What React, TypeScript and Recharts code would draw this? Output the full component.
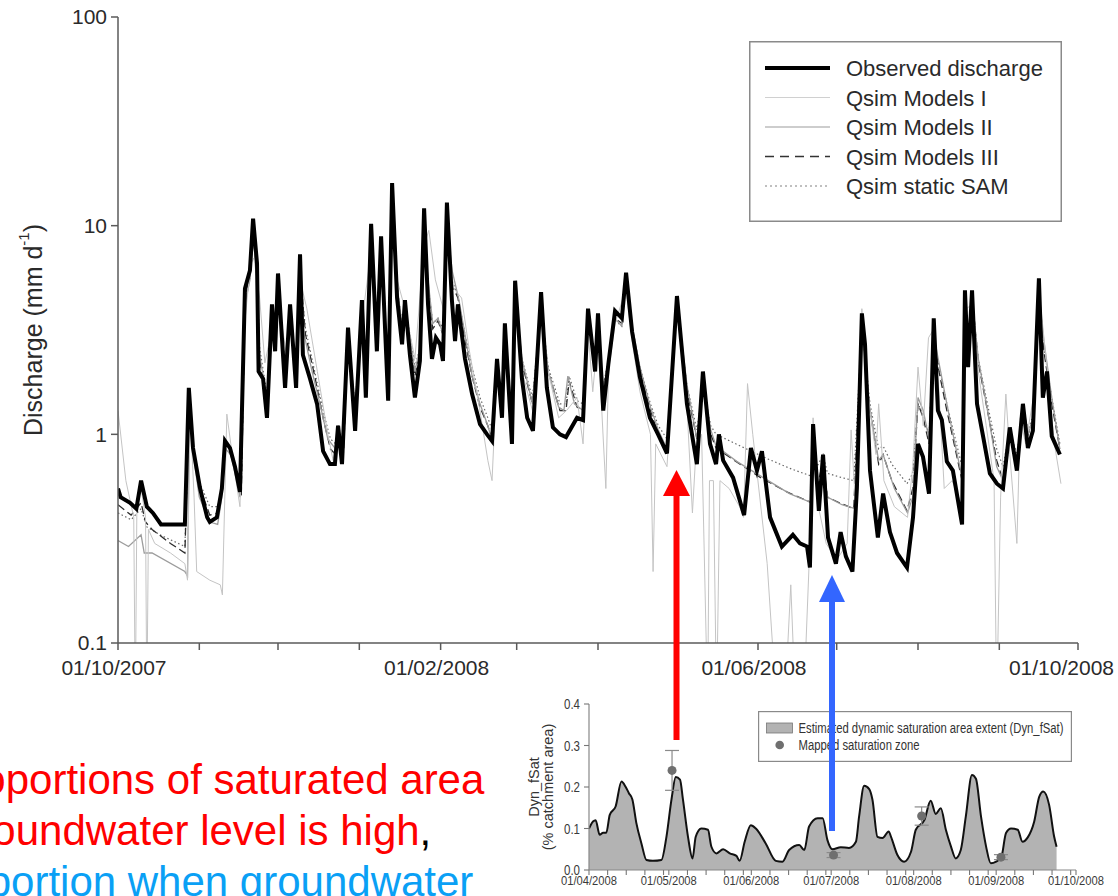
import React from "react";
import {
  LineChart,
  Line,
  XAxis,
  YAxis,
  Legend,
  ComposedChart,
  Area,
  Scatter,
  ErrorBar,
} from "recharts";

const FONT = '"Liberation Sans", Arial, Helvetica, sans-serif';
const AXIS = "#5a5a5a";
const TXT = "#2a2a2a";

// ---- main chart: days since 01/10/2007, discharge in mm/d ----
const monthTicks = [0, 31, 61, 92, 123, 152, 183, 213, 244, 274, 305, 336, 366];
const majorTicks = [0, 123, 244, 366];
const majorLabels = ["01/10/2007", "01/02/2008", "01/06/2008", "01/10/2008"];
const qTicks = [0.1, 1, 10, 100];

const observed: [number, number][] = [
  [0, 0.55], [1, 0.5], [4.6, 0.47], [7, 0.44], [8.8, 0.6], [11, 0.45], [13.3, 0.42], [16.4, 0.37],
  [25.5, 0.37], [27, 1.67], [28.6, 0.86], [31.3, 0.55], [34, 0.4], [35, 0.38], [37.7, 0.4], [39.6, 0.55],
  [40.8, 0.93], [42.7, 0.86], [44.6, 0.7], [46.5, 0.53], [48.4, 5.0], [50.3, 6.1], [51.5, 10.8], [53, 6.6],
  [53.6, 2.0], [55.3, 1.85], [56.8, 1.2], [58.7, 4.2], [59.9, 2.5], [61, 5.9], [62.5, 2.9], [63.7, 1.67],
  [65.6, 4.2], [67.9, 1.67], [69.4, 7.3], [70.5, 2.4], [73.2, 1.85], [75.9, 1.4], [78.2, 0.83], [80.8, 0.72],
  [82.7, 0.72], [83.9, 1.1], [85.4, 0.72], [87.7, 3.25], [90.4, 1.04], [93, 4.4], [94.5, 1.5], [96.5, 10.2],
  [98.7, 2.5], [100.3, 8.9], [103, 1.45], [104.5, 16.0], [106.4, 4.5], [108.3, 2.7], [109.4, 4.4], [111.3, 2.4],
  [113.2, 1.5], [115.1, 2.25], [116.7, 12.1], [118.2, 4.2], [119.7, 2.3], [121.2, 2.9], [122.8, 2.7], [123.9, 2.25],
  [125.4, 12.9], [127.3, 4.4], [128.5, 2.8], [129.6, 4.2], [132.3, 2.3], [135, 1.56], [138, 1.12], [140.7, 1.0],
  [142.6, 0.93], [144.5, 2.3], [146.4, 1.2], [147.5, 3.4], [150.2, 0.9], [151.4, 5.45], [154, 1.85], [156, 1.2],
  [158.2, 1.04], [161.3, 4.8], [163.5, 1.67], [165.8, 1.08], [168.5, 1.0], [170.8, 0.97], [175, 1.2], [177.3, 1.17],
  [179.2, 4.0], [181.9, 2.0], [183, 3.8], [185, 1.3], [187, 2.2], [189.5, 3.9], [192.1, 3.6], [193.7, 5.95],
  [196, 3.1], [199, 1.87], [202.8, 1.2], [205.9, 1.0], [209.3, 0.81], [213.1, 4.6], [216.9, 1.4], [220.7, 0.72],
  [223, 2.0], [225.7, 0.9], [228, 0.72], [229.1, 1.0], [230.7, 0.75], [234.5, 0.62], [238.7, 0.41], [241.3, 0.86],
  [243.6, 0.67], [245.5, 0.83], [248.6, 0.4], [253.1, 0.29], [257.3, 0.33], [260, 0.3], [262.7, 0.29], [263.8, 0.23],
  [265, 1.12], [267.2, 0.43], [268.8, 0.8], [270.7, 0.32], [273.7, 0.24], [275.5, 0.34], [277.5, 0.26], [280, 0.22],
  [281.7, 0.55], [283.6, 3.8], [284.8, 2.7], [286.7, 0.67], [289.7, 0.32], [291.7, 0.52], [294.3, 0.34], [297, 0.27],
  [300.8, 0.23], [303.1, 0.4], [305, 0.9], [306.9, 0.78], [309.2, 0.52], [311, 3.6], [312.6, 1.3], [314.1, 1.17],
  [316, 0.74], [318.3, 0.67], [321.8, 0.37], [322.9, 4.9], [324.1, 2.1], [325.6, 4.9], [327.5, 1.4], [329.8, 0.98],
  [332.4, 0.65], [335.1, 0.58], [337.4, 0.55], [340, 1.08], [342.7, 0.67], [345, 1.4], [346.9, 0.86], [348.8, 1.04],
  [351.1, 5.6], [352.6, 1.5], [354.2, 2.0], [356, 0.98], [359.1, 0.8],
];

const modelsI: [number, number][] = [
  [0, 1.3], [3, 0.6], [6, 0.4], [6.6, 0.05], [7.2, 0.45], [8.8, 0.55], [10.5, 0.4], [11, 0.05], [11.6, 0.35],
  [14, 0.3], [20, 0.27], [25.5, 0.24], [26.5, 0.2], [27.5, 1.3], [29, 0.5], [30, 0.22], [35, 0.2], [39, 0.19],
  [39.8, 0.17], [41.5, 1.25], [43, 0.9], [45, 0.6], [46.5, 0.45], [48.4, 3.5], [50.5, 6.5], [51.8, 7.0], [54, 4.5],
  [56, 2.2], [58.7, 3.2], [61, 4.5], [64, 2.5], [65.6, 3.5], [68, 2.2], [69.4, 5.5], [72, 4.0], [76, 2.0],
  [80, 1.0], [82, 0.75], [84, 1.1], [86, 0.9], [87.7, 2.8], [90.4, 1.4], [93, 3.5], [96.5, 7.5], [98.7, 3.5],
  [100.3, 6.5], [103, 2.5], [104.5, 10], [106.4, 5.5], [109.4, 4.0], [113.2, 2.3], [116.7, 8.0], [118.5, 9.5],
  [121, 5.5], [124, 4.0], [125.4, 8.5], [128, 5.0], [131, 4.5], [134, 2.5], [138, 1.3], [141, 0.75], [142.6, 0.6],
  [144.5, 2.0], [146.4, 1.3], [147.5, 2.8], [150.2, 1.1], [151.4, 4.5], [154, 2.0], [158, 1.3], [161.3, 3.8],
  [164, 2.0], [168, 1.2], [171, 1.3], [175, 1.5], [177.3, 0.9], [179.2, 3.2], [181, 1.6], [183, 3.0], [185, 0.95],
  [186, 0.55], [187, 2.0], [189.5, 3.4], [193.7, 5.0], [196, 2.8], [199, 1.6], [203, 1.0], [204, 0.22], [205, 0.9],
  [209.3, 0.7], [213.1, 4.0], [217, 1.3], [219, 0.42], [220.5, 0.9], [222.5, 1.0], [224.8, 0.05], [225.5, 0.6],
  [227, 0.6], [228.2, 0.05], [229.5, 0.6], [233, 0.55], [237, 0.45], [238.5, 0.4], [240, 1.75], [242, 1.0],
  [247.5, 0.24], [250, 0.08], [255, 0.08], [256.5, 0.19], [257.5, 0.09], [262, 0.08], [264, 0.35], [265, 1.2],
  [267, 0.45], [270, 0.3], [274, 0.25], [278, 0.3], [279.5, 1.05], [281, 0.5], [283.6, 4.0], [286, 1.5],
  [289, 0.8], [290, 1.4], [292, 0.6], [296, 0.45], [301, 0.4], [303, 0.7], [305, 2.1], [307, 1.1], [309, 2.9],
  [311, 3.2], [313, 1.6], [315, 0.55], [318, 0.6], [322, 0.45], [323.5, 4.0], [325.6, 4.2], [328, 2.0],
  [331, 1.1], [334, 0.6], [335, 0.05], [336.5, 0.5], [338.5, 1.56], [340, 0.8], [342.7, 0.3], [344, 1.2],
  [346, 0.9], [349, 1.5], [351.1, 5.0], [354, 2.2], [357, 0.9], [359.5, 0.58],
];

const modelsII: [number, number][] = [
  [0, 0.31], [4, 0.29], [8.8, 0.33], [10, 0.27], [13, 0.27], [25.5, 0.22], [26.5, 0.21], [27.3, 1.4], [29, 0.75],
  [31, 0.5], [35, 0.38], [38, 0.37], [39.6, 0.5], [41, 0.85], [43, 0.8], [45, 0.62], [46.5, 0.5], [48.4, 4.2],
  [50.3, 5.5], [51.5, 9.0], [53, 5.5], [54, 2.4], [56, 1.7], [57, 1.4], [58.7, 3.8], [60, 2.8], [61, 5.0],
  [62.5, 3.0], [64, 2.0], [65.6, 3.9], [68, 2.0], [69.4, 6.2], [71, 3.0], [74, 2.0], [77, 1.4], [80, 0.95],
  [83, 0.85], [84, 1.1], [85.5, 0.85], [87.7, 3.0], [90.4, 1.3], [93, 4.0], [94.5, 2.0], [96.5, 8.5], [98.7, 3.0],
  [100.3, 7.2], [103, 2.0], [104.5, 12.5], [106.4, 5.2], [108.3, 3.3], [109.4, 4.3], [111.3, 2.9], [113.2, 2.0],
  [115.1, 2.6], [116.7, 9.5], [118.2, 5.5], [120, 3.4], [122, 3.6], [124, 3.0], [125.4, 10.0], [127.5, 6.0],
  [130, 4.4], [132.3, 3.0], [135, 1.9], [138, 1.4], [141, 1.1], [143, 0.9], [144.5, 2.2], [146.4, 1.5],
  [147.5, 3.2], [150.2, 1.2], [151.4, 4.8], [154, 2.3], [158, 1.4], [161.3, 4.2], [164, 2.0], [168, 1.35],
  [170, 1.3], [171.5, 1.9], [174, 1.4], [177.3, 1.3], [179.2, 3.7], [182, 2.2], [183, 3.5], [185, 1.6], [187, 2.2],
  [189.5, 3.6], [192, 3.3], [193.7, 5.5], [196, 3.3], [199, 2.1], [203, 1.35], [206, 1.05], [209.3, 0.85],
  [213.1, 4.4], [217, 1.7], [220.7, 0.95], [223, 1.8], [226, 1.05], [228, 0.88], [236, 0.74], [246, 0.62],
  [256, 0.52], [264.5, 0.47], [265.2, 1.0], [266.5, 0.52], [268.8, 0.7], [270.5, 0.5], [276, 0.46], [281, 0.44],
  [283.6, 3.4], [286.7, 1.3], [290, 0.75], [291.7, 0.8], [296, 0.55], [301, 0.42], [303, 0.5], [305, 1.5],
  [307, 1.3], [309.2, 0.95], [311, 3.0], [313, 2.2], [316, 1.4], [318, 1.05], [321.8, 0.62], [323, 4.3],
  [324.1, 2.7], [325.6, 4.5], [328, 2.3], [332, 1.2], [335, 0.7], [337.4, 0.6], [340, 1.0], [342.7, 0.7],
  [345, 1.4], [347, 1.0], [349, 1.2], [351.1, 4.6], [353, 2.8], [356, 1.5], [359.1, 0.85],
];

const modelsIII: [number, number][] = [
  [0, 0.46], [5, 0.41], [8.8, 0.47], [10.5, 0.38], [13, 0.35], [20, 0.3], [25.5, 0.27], [27.2, 1.5], [29, 0.8],
  [31.3, 0.55], [35, 0.41], [38, 0.42], [39.6, 0.55], [41, 0.85], [43, 0.8], [45, 0.65], [47, 0.5], [48.4, 4.5],
  [50.3, 5.8], [51.5, 9.5], [53, 5.5], [54, 2.3], [56, 1.6], [57, 1.4], [58.7, 3.8], [60, 2.6], [61, 5.0],
  [62.5, 2.9], [64, 2.0], [65.6, 3.8], [68, 2.0], [69.4, 6.0], [71.5, 3.0], [75, 1.9], [78.5, 1.15], [81, 0.85],
  [83, 0.8], [84, 1.05], [86, 0.82], [87.7, 3.0], [90.4, 1.3], [93, 4.0], [94.5, 2.0], [96.5, 8.5], [98.7, 3.0],
  [100.3, 7.0], [103, 2.0], [104.5, 12.0], [106.4, 5.0], [108.3, 3.2], [109.4, 4.2], [111.3, 2.8], [113.2, 1.9],
  [115.1, 2.5], [116.7, 9.5], [118.2, 5.0], [120, 3.2], [122, 3.5], [123.9, 3.0], [125.4, 10.5], [127.3, 5.2],
  [129.6, 4.5], [132.3, 2.8], [135, 1.9], [138, 1.35], [141, 1.1], [142.6, 0.95], [144.5, 2.0], [146.4, 1.4],
  [147.5, 3.0], [150.2, 1.1], [151.4, 4.8], [154, 2.2], [158, 1.4], [161.3, 4.2], [164, 2.0], [168.5, 1.3],
  [170.8, 1.3], [172, 1.8], [175, 1.35], [177.3, 1.3], [179.2, 3.6], [182, 2.2], [183, 3.4], [185, 1.6],
  [187, 2.3], [189.5, 3.6], [192.1, 3.4], [193.7, 5.5], [196, 3.2], [199, 2.0], [203, 1.3], [206, 1.0],
  [209.3, 0.85], [213.1, 4.3], [217, 1.6], [220.7, 0.95], [223, 1.7], [226, 1.0], [228, 0.86], [235, 0.75],
  [245, 0.62], [255, 0.53], [264.5, 0.47], [265.2, 1.1], [266.5, 0.55], [268.8, 0.75], [270.5, 0.5], [275, 0.47],
  [280.5, 0.44], [283.6, 3.5], [286.7, 1.3], [290, 0.72], [291.7, 0.8], [295, 0.6], [300.8, 0.43], [303, 0.55],
  [305, 1.4], [307, 1.2], [309.2, 0.9], [311, 3.0], [313, 2.0], [316, 1.3], [318, 1.0], [321.8, 0.6], [323, 4.5],
  [324.1, 2.6], [325.6, 4.6], [328, 2.2], [332, 1.2], [335, 0.75], [337.4, 0.6], [340, 1.0], [342.7, 0.7],
  [345, 1.3], [347, 1.0], [349, 1.2], [351.1, 5.0], [353, 2.5], [356, 1.4], [359.1, 0.85],
];

const staticSam: [number, number][] = [
  [0, 0.42], [5, 0.39], [8.8, 0.44], [11, 0.36], [16, 0.33], [25.5, 0.29], [27.2, 1.3], [29, 0.8], [31.3, 0.58],
  [35, 0.45], [38, 0.45], [39.6, 0.55], [41, 0.9], [43, 0.85], [45, 0.7], [47, 0.55], [48.4, 4.2], [50.3, 5.6],
  [51.5, 9.0], [53, 5.8], [54, 2.6], [56, 1.8], [57, 1.5], [58.7, 3.6], [60, 2.7], [61, 4.8], [62.5, 3.0],
  [64, 2.1], [65.6, 3.7], [68, 2.1], [69.4, 5.8], [71.5, 3.2], [75, 2.0], [78.5, 1.25], [81, 0.95], [83, 0.9],
  [84, 1.1], [86, 0.9], [87.7, 2.9], [90.4, 1.4], [93, 3.9], [94.5, 2.1], [96.5, 8.0], [98.7, 3.2], [100.3, 6.8],
  [103, 2.2], [104.5, 11.0], [106.4, 5.2], [108.3, 3.4], [109.4, 4.1], [111.3, 3.0], [113.2, 2.1], [115.1, 2.6],
  [116.7, 9.0], [118.2, 5.3], [120, 3.4], [122, 3.6], [123.9, 3.2], [125.4, 9.8], [127.3, 5.5], [129.6, 4.6],
  [132.3, 3.0], [135, 2.1], [138, 1.5], [141, 1.2], [142.6, 1.05], [144.5, 2.0], [146.4, 1.5], [147.5, 2.9],
  [150.2, 1.25], [151.4, 4.5], [154, 2.3], [158, 1.5], [161.3, 4.0], [164, 2.1], [168.5, 1.4], [170.8, 1.4],
  [172, 1.9], [175, 1.45], [177.3, 1.4], [179.2, 3.5], [182, 2.3], [183, 3.3], [185, 1.7], [187, 2.3],
  [189.5, 3.5], [192.1, 3.3], [193.7, 5.3], [196, 3.3], [199, 2.1], [203, 1.4], [206, 1.1], [209.3, 0.95],
  [213.1, 4.1], [217, 1.7], [220.7, 1.05], [223, 1.7], [226, 1.1], [228, 1.0], [238, 0.87], [248, 0.76],
  [257, 0.68], [264.5, 0.63], [265.2, 1.05], [266.5, 0.7], [268.8, 0.8], [270.5, 0.65], [276, 0.62], [280.5, 0.6],
  [283.6, 3.3], [286.7, 1.4], [290, 0.85], [291.7, 0.88], [295, 0.72], [300.8, 0.58], [303, 0.65], [305, 1.4],
  [307, 1.25], [309.2, 1.0], [311, 2.9], [313, 2.1], [316, 1.4], [318, 1.1], [321.8, 0.7], [323, 4.3],
  [324.1, 2.7], [325.6, 4.4], [328, 2.3], [332, 1.3], [335, 0.85], [337.4, 0.7], [340, 1.05], [342.7, 0.8],
  [345, 1.35], [347, 1.05], [349, 1.25], [351.1, 4.8], [353, 2.6], [356, 1.5], [359.1, 0.9],
];

// ---- inset: days since 01/04/2008, Dyn_fSat ----
const insetMonthStarts = [0, 30, 61, 91, 122, 153, 183];
const insetMonthLabels = ["01/04/2008", "01/05/2008", "01/06/2008", "01/07/2008", "01/08/2008", "01/09/2008", "01/10/2008"];
const fsatTicks = [0, 0.1, 0.2, 0.3, 0.4];

const dynFsat: [number, number][] = [
  [0, 0.1], [1.5, 0.117], [2.5, 0.12], [4, 0.085], [5.3, 0.09], [6.5, 0.09], [7.8, 0.133], [10, 0.153],
  [12.2, 0.213], [13.8, 0.2], [15, 0.185], [16.3, 0.17], [17.8, 0.113], [19.7, 0.064], [21.6, 0.024], [24, 0.022],
  [27.2, 0.024], [29.1, 0.08], [31, 0.17], [32.6, 0.224], [34.2, 0.218], [35.3, 0.17], [37.2, 0.08], [38.9, 0.028],
  [40.1, 0.08], [42.2, 0.1], [44.7, 0.097], [46, 0.056], [47.9, 0.04], [50.4, 0.05], [52.9, 0.04], [55.4, 0.034],
  [56.6, 0.022], [58.5, 0.068], [60.8, 0.108], [62.7, 0.1], [66.4, 0.064], [70.2, 0.022], [72.7, 0.02], [75.2, 0.048],
  [79, 0.06], [80.9, 0.048], [82.7, 0.105], [85.9, 0.125], [87.8, 0.125], [89.6, 0.072], [91.5, 0.05], [94.6, 0.055],
  [97.7, 0.053], [100.3, 0.068], [101.5, 0.129], [103.4, 0.203], [105.3, 0.195], [106.5, 0.17], [108.4, 0.08],
  [110.3, 0.077], [112.6, 0.093], [113.5, 0.08], [115.9, 0.036], [118.4, 0.02], [121, 0.044], [122.8, 0.097],
  [126, 0.12], [128.4, 0.167], [130.3, 0.135], [132.2, 0.149], [134.1, 0.097], [136, 0.057], [137.8, 0.028],
  [139.7, 0.048], [141.6, 0.129], [143.9, 0.229], [145.4, 0.22], [147.3, 0.129], [149.2, 0.057], [151, 0.016],
  [153, 0.02], [154.9, 0.03], [156.7, 0.089], [158.6, 0.1], [161.1, 0.097], [162.9, 0.068], [164.8, 0.078],
  [167.3, 0.117], [169.2, 0.177], [170.7, 0.189], [172.9, 0.157], [174.8, 0.08], [175.7, 0.056],
];

// [day, fSat, error]
const mappedZone: [number, number, number][] = [
  [31.2, 0.24, 0.048],
  [91.9, 0.036, 0.006],
  [125, 0.13, 0.022],
  [154.8, 0.031, 0.006],
];

const series = [
  { name: "Observed discharge", pts: observed, stroke: "#000", width: 4, dash: undefined, lStroke: "#000", lWidth: 4, lDash: undefined },
  { name: "Qsim Models I", pts: modelsI, stroke: "#c4c4c4", width: 1, dash: undefined, lStroke: "#d0d0d0", lWidth: 1.2, lDash: undefined },
  { name: "Qsim Models II", pts: modelsII, stroke: "#9c9c9c", width: 1.3, dash: undefined, lStroke: "#bcbcbc", lWidth: 1.6, lDash: undefined },
  { name: "Qsim Models III", pts: modelsIII, stroke: "#2b2b2b", width: 1.3, dash: "8 4", lStroke: "#333", lWidth: 1.4, lDash: "9 6" },
  { name: "Qsim static SAM", pts: staticSam, stroke: "#666", width: 1.2, dash: "1.5 2.5", lStroke: "#aaa", lWidth: 1.3, lDash: "2 3" },
];

const toRows = (pts: [number, number][]) => pts.map(([d, q]) => ({ d, q }));
const fsatRows = dynFsat.map(([d, f]) => ({ d, f }));
const mappedRows = mappedZone.map(([d, f, e]) => ({ d, f, e }));

const weekTicks: number[] = [];
insetMonthStarts.forEach((s, i) => {
  const next = insetMonthStarts[i + 1] ?? 999;
  [0, 7, 14, 21, 28].forEach((k) => {
    if (s + k < next && s + k <= 183) weekTicks.push(s + k);
  });
});

function MonthTick(props: any) {
  const { x, y, payload } = props;
  const idx = majorTicks.indexOf(payload.value);
  const last = idx === majorTicks.length - 1;
  return (
    <g>
      <line x1={x} x2={x} y1={y} y2={y + 7} stroke={AXIS} strokeWidth={1.5} />
      {idx >= 0 && (
        <text x={last ? x + 36 : x - 4} y={y + 32} textAnchor={last ? "end" : "middle"} fontSize={21}
          fill={TXT} fontFamily={FONT}>
          {majorLabels[idx]}
        </text>
      )}
    </g>
  );
}

function WeekTick(props: any) {
  const { x, y, payload } = props;
  const idx = insetMonthStarts.indexOf(payload.value);
  return (
    <g>
      <line x1={x} x2={x} y1={y} y2={y + 5} stroke="#777" strokeWidth={1.1} />
      {idx >= 0 && (
        <text x={x} y={y + 15} textAnchor="middle" fontSize={13} fill="#3a3a3a" fontFamily={FONT}
          textLength={56} lengthAdjust="spacingAndGlyphs">
          {insetMonthLabels[idx]}
        </text>
      )}
    </g>
  );
}

function FsatTick(props: any) {
  const { x, y, payload } = props;
  return (
    <text x={x} y={y + 5} textAnchor="end" fontSize={14} fill="#3a3a3a" fontFamily={FONT}
      textLength={16} lengthAdjust="spacingAndGlyphs">
      {payload.value.toFixed(1)}
    </text>
  );
}

function MainLegend() {
  return (
    <svg width={313} height={181} style={{ display: "block" }}>
      <rect x={0.75} y={0.75} width={311.5} height={179.5} fill="#fff" stroke="#8a8a8a" strokeWidth={1.5} />
      {series.map((s, i) => {
        const cy = 27 + i * 29.5;
        return (
          <g key={s.name}>
            <line x1={16} x2={81} y1={cy} y2={cy} stroke={s.lStroke} strokeWidth={s.lWidth} strokeDasharray={s.lDash} />
            <text x={97} y={cy + 8} fontSize={22} fill={TXT} fontFamily={FONT}>{s.name}</text>
          </g>
        );
      })}
    </svg>
  );
}

function InsetLegend() {
  return (
    <svg width={314} height={51} style={{ display: "block" }}>
      <rect x={0.6} y={0.6} width={312.8} height={49.8} fill="#fff" stroke="#8a8a8a" strokeWidth={1.2} />
      <rect x={8.5} y={12} width={26} height={10} fill="#b3b3b3" stroke="#777" strokeWidth={0.8} />
      <text x={40.5} y={22} fontSize={14} fill="#333" fontFamily={FONT} textLength={265} lengthAdjust="spacingAndGlyphs">
        Estimated dynamic saturation area extent (Dyn_fSat)
      </text>
      <circle cx={21.7} cy={34} r={4.3} fill="#6f6f6f" />
      <text x={40.5} y={39} fontSize={14} fill="#333" fontFamily={FONT} textLength={121} lengthAdjust="spacingAndGlyphs">
        Mapped saturation zone
      </text>
    </svg>
  );
}

const mainYLabel = () => (
  <text transform="rotate(-90, 33, 330)" x={33} y={330} textAnchor="middle" dominantBaseline="central"
    fontSize={25} fill={TXT} fontFamily={FONT}>
    <tspan>Discharge (mm d</tspan>
    <tspan dy={-10} fontSize={15}>-1</tspan>
    <tspan dy={10}>)</tspan>
  </text>
);

const insetYLabel = () => (
  <g fontSize={14.5} fill="#333" fontFamily={FONT}>
    <text transform="rotate(-90, 24, 97)" x={24} y={97} textAnchor="middle" dominantBaseline="central">Dyn_fSat</text>
    <text transform="rotate(-90, 38, 97)" x={38} y={97} textAnchor="middle" dominantBaseline="central">(% catchment area)</text>
  </g>
);

const textLine: React.CSSProperties = {
  position: "absolute",
  fontFamily: FONT,
  fontSize: 42,
  lineHeight: "42px",
  whiteSpace: "nowrap",
};

export default function App() {
  return (
    <div style={{ position: "absolute", left: 0, top: 0, width: 1118, height: 896, overflow: "hidden", background: "#fff" }}>
      <div style={{ position: "absolute", left: 0, top: 0 }}>
        <LineChart width={1118} height={690} margin={{ top: 17, right: 40, bottom: 0, left: 0 }}>
          <XAxis type="number" dataKey="d" domain={[0, 366]} ticks={monthTicks} interval={0} allowDataOverflow
            tick={<MonthTick />} tickLine={false} tickSize={0} tickMargin={0} height={47}
            axisLine={{ stroke: AXIS, strokeWidth: 1.5 }} />
          <XAxis xAxisId="top" orientation="top" type="number" domain={[0, 1]} height={0}
            tick={false} tickLine={false} axisLine={{ stroke: AXIS, strokeWidth: 1.5 }} />
          <YAxis scale="log" domain={[0.1, 100]} allowDataOverflow ticks={qTicks} interval={0} width={118}
            tickFormatter={(v: number) => (v < 1 ? v.toFixed(1) : String(v))}
            tickSize={7} tickMargin={4} tick={{ fontSize: 21, fill: TXT, fontFamily: FONT }}
            tickLine={{ stroke: AXIS, strokeWidth: 1.5 }} axisLine={{ stroke: AXIS, strokeWidth: 1.5 }}
            label={mainYLabel} />
          <YAxis yAxisId="right" orientation="right" type="number" domain={[0, 1]} width={0}
            tick={false} tickLine={false} axisLine={{ stroke: AXIS, strokeWidth: 1.5 }} />
          {[...series].reverse().map((s) => (
            <Line key={s.name} data={toRows(s.pts)} dataKey="q" name={s.name} type="linear"
              stroke={s.stroke} strokeWidth={s.width} strokeDasharray={s.dash}
              dot={false} activeDot={false} isAnimationActive={false} />
          ))}
          <Legend layout="horizontal" verticalAlign="middle" align="center"
            wrapperStyle={{ left: 749, top: 41, width: 313, height: 181, margin: 0 }}
            content={() => <MainLegend />} />
        </LineChart>
      </div>

      <div style={{ position: "absolute", left: 510, top: 690 }}>
        <ComposedChart width={608} height={206} data={fsatRows} margin={{ top: 14, right: 42, bottom: 0, left: 0 }}>
          <XAxis type="number" dataKey="d" domain={[0, 183]} ticks={weekTicks} interval={0} allowDataOverflow
            tick={<WeekTick />} tickLine={false} tickSize={0} tickMargin={0} height={26}
            axisLine={{ stroke: "#888", strokeWidth: 1.2 }} />
          <XAxis xAxisId="top" orientation="top" type="number" domain={[0, 1]} height={0}
            tick={false} tickLine={false} axisLine={{ stroke: "#888", strokeWidth: 1.2 }} />
          <YAxis type="number" domain={[0, 0.4]} ticks={fsatTicks} interval={0} width={79}
            tick={<FsatTick />} tickSize={5} tickMargin={4}
            tickLine={{ stroke: "#777", strokeWidth: 1.1 }} axisLine={{ stroke: "#888", strokeWidth: 1.2 }}
            label={insetYLabel} />
          <YAxis yAxisId="right" orientation="right" type="number" domain={[0, 1]} width={0}
            tick={false} tickLine={false} axisLine={{ stroke: "#888", strokeWidth: 1.2 }} />
          <Area type="monotone" dataKey="f" name="Estimated dynamic saturation area extent (Dyn_fSat)"
            stroke="#111" strokeWidth={2} fill="#b3b3b3" fillOpacity={1}
            dot={false} activeDot={false} isAnimationActive={false} />
          <Scatter data={mappedRows} dataKey="f" name="Mapped saturation zone" fill="#6f6f6f"
            isAnimationActive={false}
            shape={(p: any) => <circle cx={p.cx} cy={p.cy} r={4.5} fill="#6f6f6f" />}>
            <ErrorBar dataKey="e" direction="y" width={7} stroke="#8a8a8a" strokeWidth={1.2} />
          </Scatter>
          <Legend layout="horizontal" verticalAlign="middle" align="center"
            wrapperStyle={{ left: 248, top: 21, width: 314, height: 51, margin: 0 }}
            content={() => <InsetLegend />} />
        </ComposedChart>
      </div>

      <div style={{ ...textLine, left: -55, top: 759, color: "#ff0000" }}>proportions of saturated area</div>
      <div style={{ ...textLine, left: -45, top: 810, color: "#ff0000" }}>
        groundwater level is high<span style={{ color: "#000" }}>,</span>
      </div>
      <div style={{ ...textLine, left: -73, top: 861, color: "#0aa0f5" }}>proportion when groundwater</div>

      <svg width={1118} height={896} style={{ position: "absolute", left: 0, top: 0, pointerEvents: "none" }}>
        <line x1={676.5} x2={676.5} y1={740} y2={494} stroke="#ff0000" strokeWidth={6} />
        <polygon points="663,496 690,496 676.5,470" fill="#ff0000" />
        <line x1={832} x2={832} y1={831} y2={600} stroke="#3366ff" strokeWidth={6} />
        <polygon points="819,602 845,602 832,575" fill="#3366ff" />
      </svg>
    </div>
  );
}
